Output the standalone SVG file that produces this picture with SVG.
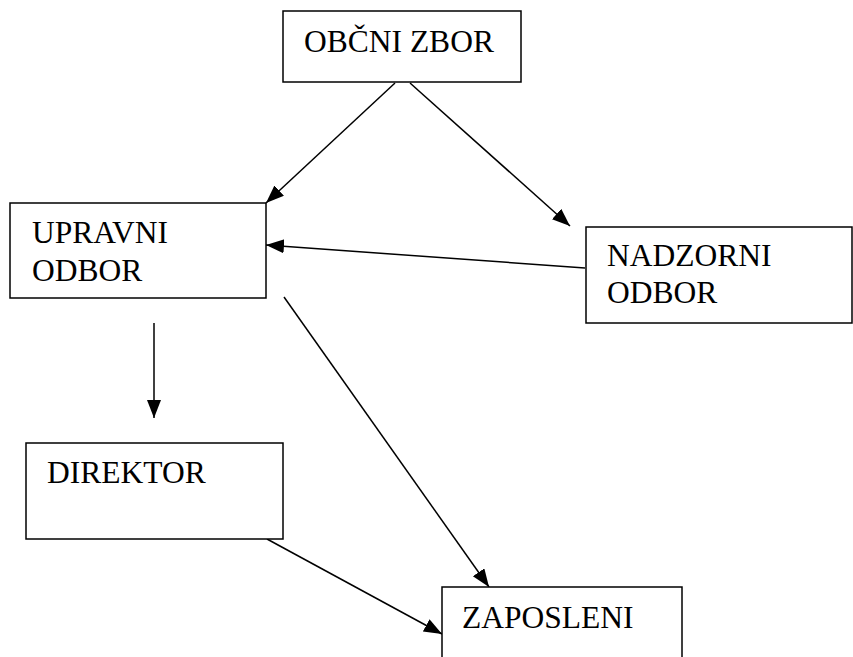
<svg xmlns="http://www.w3.org/2000/svg" width="853" height="657" viewBox="0 0 853 657">
<style>
.box{fill:#fff;stroke:#000;stroke-width:1.5}
.con{stroke:#000;stroke-width:1.5;fill:none}
</style>
<defs>
<marker id="ah" markerUnits="userSpaceOnUse" markerWidth="19" markerHeight="15" refX="18" refY="7" orient="auto">
<path d="M0,0 L18,7 L0,14 z" fill="#000"/>
</marker>
</defs>
<rect width="853" height="657" fill="#fff"/>
<g id="connectors">
<line class="con" marker-end="url(#ah)" x1="395" y1="83" x2="266" y2="203"/>
<line class="con" marker-end="url(#ah)" x1="410" y1="83" x2="570" y2="226"/>
<line class="con" marker-end="url(#ah)" x1="585" y1="268" x2="266" y2="245"/>
<line class="con" marker-end="url(#ah)" x1="154" y1="323" x2="154" y2="418"/>
<line class="con" marker-end="url(#ah)" x1="284" y1="297" x2="489" y2="587"/>
<line class="con" marker-end="url(#ah)" x1="267" y1="539" x2="442" y2="634"/>
</g>
<g id="obcni-zbor">
<rect class="box" x="283" y="11" width="238" height="71"/>
<text x="304" y="52" font-family="Times New Roman, Liberation Serif, Tinos, serif" font-size="31.5">OBČNI ZBOR</text>
</g>
<g id="upravni-odbor">
<rect class="box" x="10" y="203" width="256" height="95"/>
<text x="32" y="243" font-family="Times New Roman, Liberation Serif, Tinos, serif" font-size="31.5">UPRAVNI</text>
<text x="32" y="281" font-family="Times New Roman, Liberation Serif, Tinos, serif" font-size="31.5">ODBOR</text>
</g>
<g id="nadzorni-odbor">
<rect class="box" x="586" y="227" width="266" height="96"/>
<text x="607" y="266" font-family="Times New Roman, Liberation Serif, Tinos, serif" font-size="31.5">NADZORNI</text>
<text x="607" y="303" font-family="Times New Roman, Liberation Serif, Tinos, serif" font-size="31.5">ODBOR</text>
</g>
<g id="direktor">
<rect class="box" x="26" y="443" width="257" height="96"/>
<text x="47" y="483" font-family="Times New Roman, Liberation Serif, Tinos, serif" font-size="31.5">DIREKTOR</text>
</g>
<g id="zaposleni">
<rect class="box" x="442" y="587" width="240" height="90"/>
<text x="462" y="628" font-family="Times New Roman, Liberation Serif, Tinos, serif" font-size="31.5">ZAPOSLENI</text>
</g>
</svg>
